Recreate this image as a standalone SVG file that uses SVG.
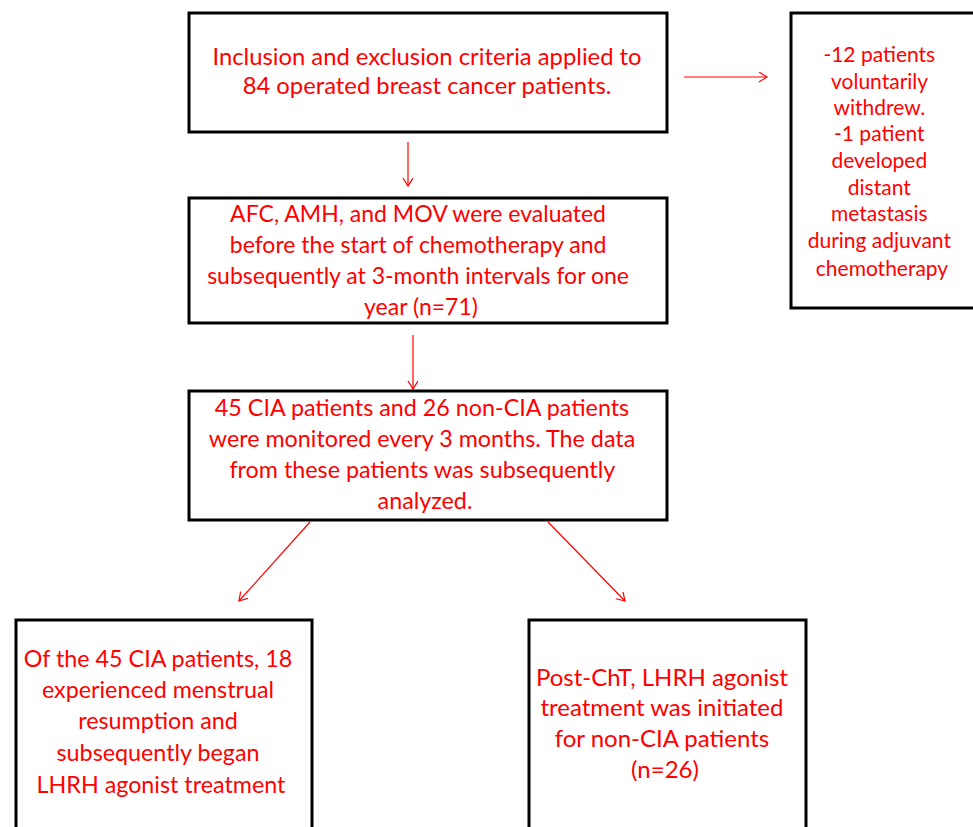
<svg xmlns="http://www.w3.org/2000/svg" width="973" height="827" viewBox="0 0 973 827">
<defs>
<marker id="ah" markerUnits="userSpaceOnUse" markerWidth="12" markerHeight="12" refX="9" refY="5" orient="auto">
<path d="M1,0 L9,5 L1,10" fill="none" stroke="#f00" stroke-width="1.2"/>
</marker>
<style>
.box{fill:#fff;stroke:#000;stroke-width:3}
.t{font-family:Lato,"Liberation Sans",sans-serif;fill:#f00;text-anchor:middle}
.c{stroke:#f00;stroke-width:1.2;fill:none;marker-end:url(#ah)}
</style>
</defs>
<rect width="973" height="827" fill="#fff"/>
<g id="connectors">
<line class="c" x1="684" y1="77" x2="767" y2="77"/>
<line class="c" x1="408" y1="142" x2="408" y2="186"/>
<line class="c" x1="413" y1="335" x2="413" y2="389"/>
<line class="c" x1="310" y1="522" x2="239" y2="601"/>
<line class="c" x1="548" y1="522" x2="625" y2="601"/>
</g>
<g id="n1">
<rect class="box" x="189" y="13" width="478" height="119"/>
<text class="t" font-size="23.8" x="427" y="65">Inclusion and exclusion criteria applied to</text>
<text class="t" font-size="23.8" x="427" y="94">84 operated breast cancer patients.</text>
</g>
<g id="n2">
<rect class="box" x="791" y="13" width="190" height="295"/>
<text class="t" font-size="21" x="882">
<tspan x="882" y="62">-12 patients</tspan>
<tspan x="882" y="89">voluntarily</tspan>
<tspan x="882" y="115">withdrew.</tspan>
<tspan x="882" y="141">-1 patient</tspan>
<tspan x="882" y="168">developed</tspan>
<tspan x="882" y="195">distant</tspan>
<tspan x="882" y="221">metastasis</tspan>
<tspan x="882" y="248">during adjuvant</tspan>
<tspan x="882" y="276">chemotherapy</tspan>
</text>
</g>
<g id="n3">
<rect class="box" x="189" y="198" width="478" height="125"/>
<text class="t" font-size="23" x="421">
<tspan x="421" y="222">AFC, AMH, and MOV were evaluated</tspan>
<tspan x="421" y="253">before the start of chemotherapy and</tspan>
<tspan x="421" y="284">subsequently at 3-month intervals for one</tspan>
<tspan x="421" y="315">year (n=71)</tspan>
</text>
</g>
<g id="n4">
<rect class="box" x="189" y="391" width="478" height="129"/>
<text class="t" font-size="23.3" x="425">
<tspan x="425" y="416">45 CIA patients and 26 non-CIA patients</tspan>
<tspan x="425" y="447">were monitored every 3 months. The data</tspan>
<tspan x="425" y="478">from these patients was subsequently</tspan>
<tspan x="425" y="509">analyzed.</tspan>
</text>
</g>
<g id="n5">
<rect class="box" x="16" y="620" width="296" height="220"/>
<text class="t" font-size="23.3" x="161">
<tspan x="161" y="667">Of the 45 CIA patients, 18</tspan>
<tspan x="161" y="698">experienced menstrual</tspan>
<tspan x="161" y="729">resumption and</tspan>
<tspan x="161" y="761">subsequently began</tspan>
<tspan x="161" y="793">LHRH agonist treatment</tspan>
</text>
</g>
<g id="n6">
<rect class="box" x="529" y="620" width="277" height="220"/>
<text class="t" font-size="24" x="665">
<tspan x="665" y="686">Post-ChT, LHRH agonist</tspan>
<tspan x="665" y="716">treatment was initiated</tspan>
<tspan x="665" y="747">for non-CIA patients</tspan>
<tspan x="665" y="778">(n=26)</tspan>
</text>
</g>
</svg>
